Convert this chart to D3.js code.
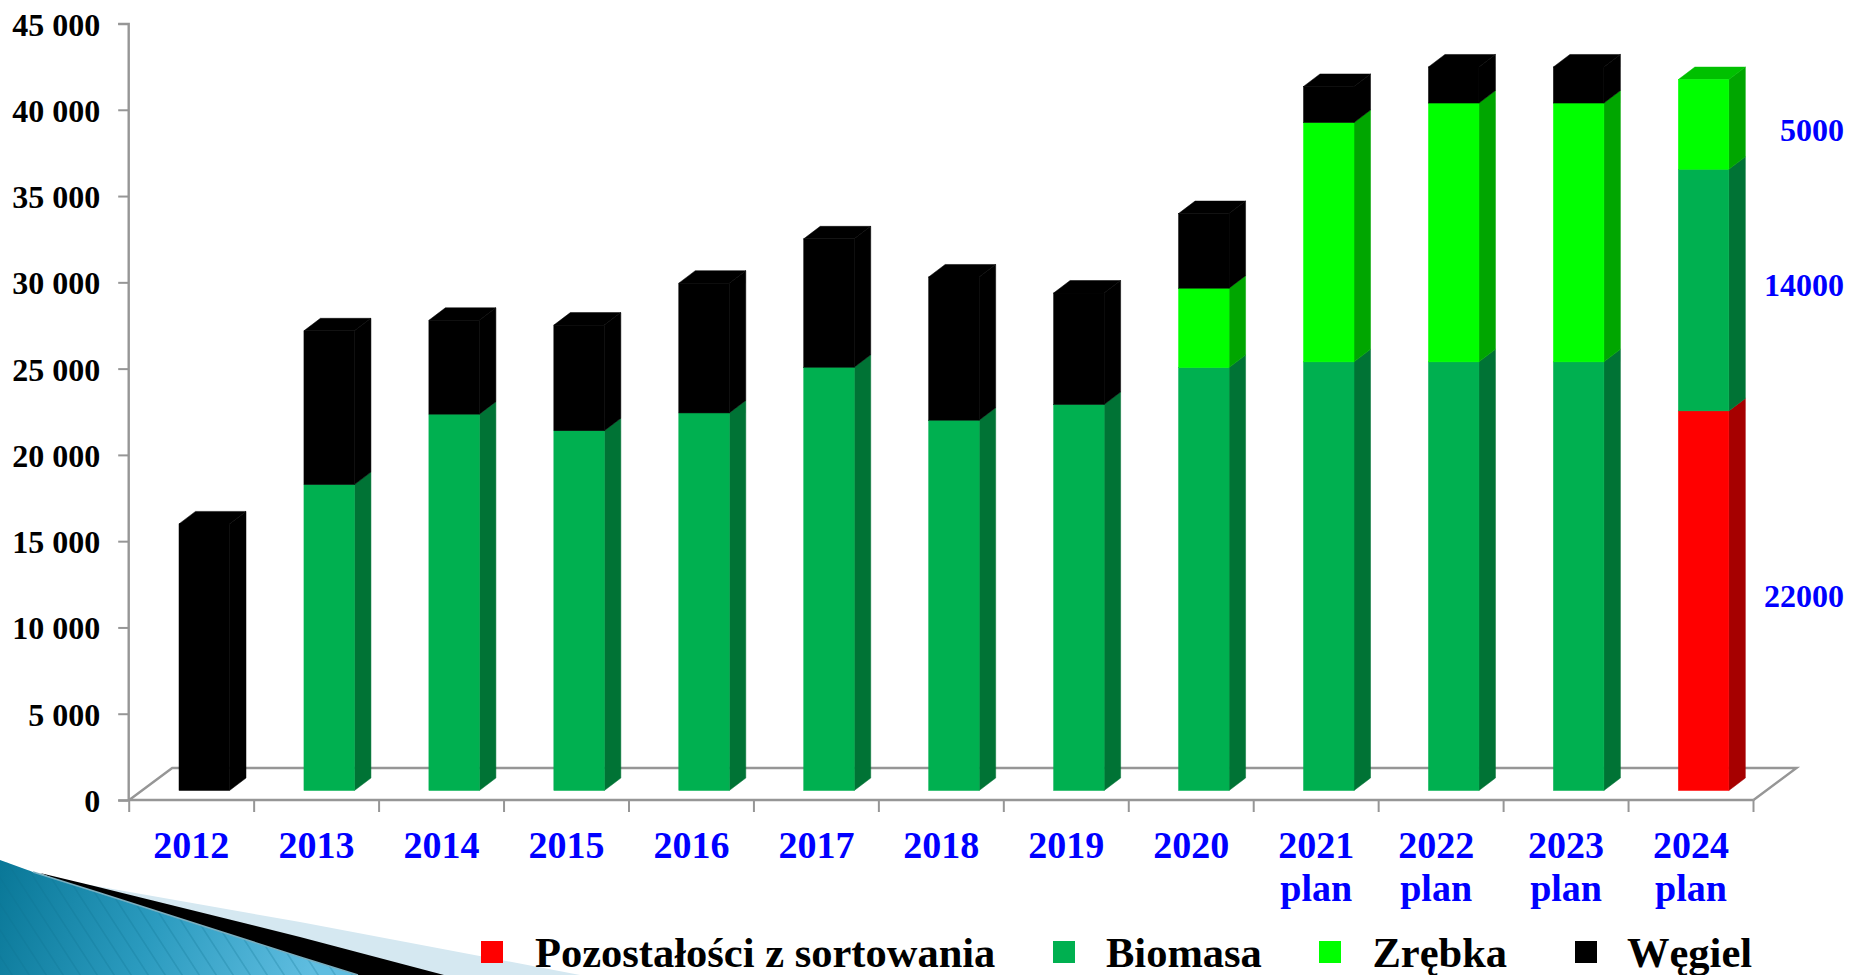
<!DOCTYPE html>
<html lang="pl">
<head>
<meta charset="utf-8">
<title>Paliwa</title>
<script src="https://cdn.jsdelivr.net/npm/d3@7"></script>
<style>
html,body{margin:0;padding:0;background:#fff;overflow:hidden}
svg{display:block}
text{font-family:"Liberation Serif","Times New Roman",serif;font-weight:700}
</style>
</head>
<body>
<svg id="chart" width="1849" height="975"></svg>
<script>
const years = ["2012","2013","2014","2015","2016","2017","2018","2019","2020","2021","2022","2023","2024"];
const yearNotes = ["","","","","","","","","","plan","plan","plan","plan"];
const residue = [0,0,0,0,0,0,0,0,0,0,0,0,22000];
const biomass = [0,17730,21810,20850,21880,24530,21460,22370,24510,24840,24840,24840,14000];
const chips = [0,0,0,0,0,0,0,0,4600,13870,15000,15000,5200];
const coal = [15450,8910,5440,6120,7520,7440,8300,6460,4325,2090,2090,2090,0];
const yTicks = [0,5000,10000,15000,20000,25000,30000,35000,40000,45000];
const seriesKeys = ["residue","biomass","chips","coal"];
const seriesNames = ["Pozostałości z sortowania","Biomasa","Zrębka","Węgiel"];
const frontColors = ["#ff0000","#00b050","#00ff00","#000000"];
const sideColors = ["#a60000","#007335","#00a600","#000000"];
const topColors = ["#c00000","#00884a","#00c000","#000000"];
const planLabels = ["22000","14000","5000"];

const svg = d3.select("#chart");
const defs = svg.append("defs");

/* template decoration, bottom-left */
const grad = defs.append("linearGradient").attr("id","deco")
  .attr("gradientUnits","userSpaceOnUse").attr("x1",0).attr("y1",870).attr("x2",310).attr("y2",975);
grad.append("stop").attr("offset",0).attr("stop-color","#0a7898");
grad.append("stop").attr("offset",0.5).attr("stop-color","#2b9bbf");
grad.append("stop").attr("offset",1).attr("stop-color","#5fbde0");
const pat = defs.append("pattern").attr("id","stripes").attr("patternUnits","userSpaceOnUse")
  .attr("width",17).attr("height",30).attr("patternTransform","skewX(33)");
pat.append("line").attr("x1",8).attr("x2",8).attr("y1",0).attr("y2",30)
  .attr("stroke","#0b6f8e").attr("stroke-opacity",0.38).attr("stroke-width",1.3);
const deco = svg.append("g");
deco.append("path").attr("d","M90,885L300,922L580,975L200,975Z").attr("fill","#d5e8f1");
deco.append("path").attr("d","M40,873L90,885L300,937L444,975L300,975Z").attr("fill","#000");
const bluePath = "M0,860L33,872L100,893L300,957L358,975L0,975Z";
deco.append("path").attr("d",bluePath).attr("fill","url(#deco)");
deco.append("path").attr("d",bluePath).attr("fill","url(#stripes)");
deco.append("path").attr("d","M33,872L100,893L300,957L358,975").attr("fill","none")
  .attr("stroke","#79aebf").attr("stroke-width",1.6);

/* scales */
const x = d3.scaleBand().domain(years).range([129.2,1753.5]);
const y = d3.scaleLinear().domain([0,45000]).range([800,23.5]);

const barInset = 49.8, barWidth = 50.5, depthX = 16.5, depthY = 12.5, lift = 9.5;
const frontX = d => x(d) + barInset;
const frontY = v => y(v) - lift;

/* floor */
const axisGrey = "#969696";
const floorBack = y(0) - 32, floorShift = 43;
const x0 = x.range()[0], x1 = x.range()[1];
svg.append("path")
  .attr("d",`M${x0},${y(0)}L${x0+floorShift},${floorBack}L${x1+floorShift},${floorBack}L${x1},${y(0)}`)
  .attr("fill","none").attr("stroke",axisGrey).attr("stroke-width",2.4);

/* y axis */
const yAxis = svg.append("g").attr("transform",`translate(${x0-1},0)`)
  .call(d3.axisLeft(y).tickValues(yTicks).tickSize(10).tickPadding(18)
    .tickFormat(d => d3.format(",")(d).replace(/,/g," ")));
yAxis.selectAll("path,line").attr("stroke",axisGrey).attr("stroke-width",2);
yAxis.select("path").attr("stroke-width",2.4);
yAxis.selectAll("text").attr("fill","#000").attr("font-size",32).attr("dy","0.36em")
  .attr("font-family",'"Liberation Serif",serif').attr("font-weight",700);

/* x axis */
const xAxis = svg.append("g").attr("transform",`translate(0,${y(0)})`)
  .call(d3.axisBottom(x).tickSize(0).tickPadding(0));
xAxis.select("path").remove();
xAxis.selectAll("text").each(function(d,i){
  const t = d3.select(this).attr("fill","#0000ff").attr("font-size",38)
    .attr("font-family",'"Liberation Serif",serif').attr("font-weight",700)
    .attr("y",null).attr("dy",null).text(null);
  const shift = d === "2022" ? -5 : (d === "2012" ? -0.5 : 0);
  t.append("tspan").attr("x",shift).attr("y",58).text(d);
  if (yearNotes[i]) t.append("tspan").attr("x",shift).attr("y",101).text(yearNotes[i]);
});
svg.append("path")
  .attr("d",`M${x0},${y(0)}H${x1}`).attr("stroke",axisGrey).attr("stroke-width",2.4).attr("fill","none");
svg.append("g").selectAll("line").data(years.concat("end")).join("line")
  .attr("x1",d => d==="end"?x1:x(d)).attr("x2",d => d==="end"?x1:x(d))
  .attr("y1",y(0)).attr("y2",y(0)+12)
  .attr("stroke",axisGrey).attr("stroke-width",2);

/* stacked 3D bars */
const rows = years.map((yr,i) => ({year:yr,residue:residue[i],biomass:biomass[i],chips:chips[i],coal:coal[i]}));
const stacked = d3.stack().keys(seriesKeys)(rows);
const barGroups = svg.append("g").selectAll("g").data(years).join("g");
barGroups.each(function(yr,i){
  const g = d3.select(this);
  const left = frontX(yr), right = left + barWidth;
  let topMost = -1;
  stacked.forEach((s,k) => { if (s[i][1] > s[i][0]) topMost = k; });
  stacked.forEach((s,k) => {
    const [a,b] = s[i];
    if (b <= a) return;
    const ya = frontY(a), yb = frontY(b);
    /* thin same-colour outline closes the anti-aliased seams between faces */
    g.append("path")
      .attr("d",`M${right},${ya}L${right+depthX},${ya-depthY}L${right+depthX},${yb-depthY}L${right},${yb}Z`)
      .attr("fill",sideColors[k]).attr("stroke",sideColors[k]).attr("stroke-width",0.5);
    if (k === topMost) {
      g.append("path")
        .attr("d",`M${left},${yb}L${left+depthX},${yb-depthY}L${right+depthX},${yb-depthY}L${right},${yb}Z`)
        .attr("fill",topColors[k]).attr("stroke",topColors[k]).attr("stroke-width",0.5);
    }
    g.append("rect").attr("x",left).attr("y",yb).attr("width",barWidth).attr("height",ya-yb)
      .attr("fill",frontColors[k]).attr("stroke",frontColors[k]).attr("stroke-width",0.5);
  });
});

/* labels next to the last bar */
const lastIdx = years.length - 1;
const planSegments = [stacked[0][lastIdx],stacked[1][lastIdx],stacked[2][lastIdx]];
svg.append("g").selectAll("text").data(planLabels).join("text")
  .attr("x",1844).attr("text-anchor","end").attr("fill","#0000ff").attr("font-size",32)
  .attr("y",(d,i) => frontY((planSegments[i][0]+planSegments[i][1])/2) + (i===2 ? 17 : 6))
  .text(d => d);

/* legend */
const legendSquares = [481,1053,1319,1575];
const legendTexts = [535,1106,1372.5,1627];
const legend = svg.append("g").selectAll("g").data(seriesNames).join("g");
legend.append("rect").attr("x",(d,i)=>legendSquares[i]).attr("y",941).attr("width",22).attr("height",22)
  .attr("fill",(d,i)=>frontColors[i]);
legend.append("text").attr("x",(d,i)=>legendTexts[i]).attr("y",967).attr("font-size",42.5).attr("fill","#000")
  .text(d=>d);
</script>
</body>
</html>
